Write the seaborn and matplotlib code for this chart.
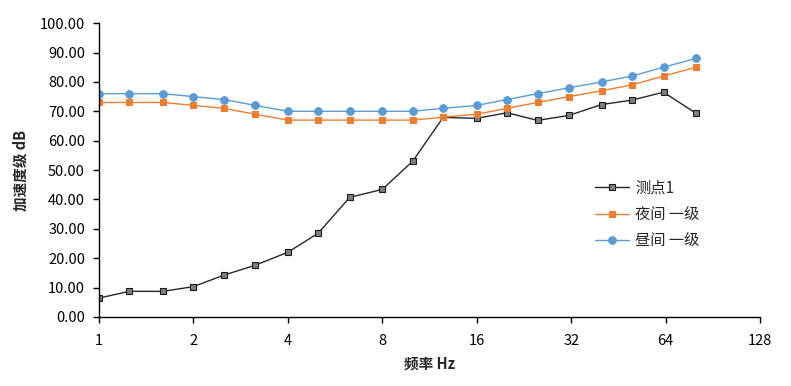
import numpy as np
import pandas as pd
import matplotlib
matplotlib.use('Agg')
import matplotlib.pyplot as plt
import seaborn as sns
from matplotlib.ticker import FixedLocator, FormatStrFormatter, NullLocator

sns.set_style('ticks')
plt.rcParams['font.family'] = ['Noto Sans CJK SC', 'DejaVu Sans']

# 1/3 octave band centre frequencies (Hz)
freq = [1, 1.25, 1.6, 2, 2.5, 3.15, 4, 5, 6.3, 8, 10, 12.5, 16, 20, 25, 31.5, 40, 50, 63, 80]
point1 = [6.4, 8.7, 8.7, 10.3, 14.2, 17.6, 22.0, 28.5, 40.7, 43.4, 53.0, 67.9, 67.6, 69.5, 66.9,
          68.6, 72.3, 73.8, 76.5, 69.3]
night1 = [73, 73, 73, 72, 71, 69, 67, 67, 67, 67, 67, 68, 69, 71, 73, 75, 77, 79, 82, 85]
day1 = [76, 76, 76, 75, 74, 72, 70, 70, 70, 70, 70, 71, 72, 74, 76, 78, 80, 82, 85, 88]
xticks = [1, 2, 4, 8, 16, 32, 64, 128]

fig = plt.figure(figsize=(7.91, 3.86), dpi=100)
ax = fig.add_axes([0.125, 0.179, 0.836, 0.761])

sns.lineplot(x=freq, y=point1, ax=ax, color='#262626', lw=1, marker='s', markersize=5,
             markerfacecolor='#7f7f7f', markeredgecolor='#1a1a1a', markeredgewidth=0.8, label='测点1')
sns.lineplot(x=freq, y=night1, ax=ax, color='#ED7D31', lw=1, marker='s', markersize=5,
             markeredgecolor='#ED7D31', label='夜间 一级')
sns.lineplot(x=freq, y=day1, ax=ax, color='#5B9BD5', lw=1, marker='o', markersize=5.5,
             markeredgecolor='#5B9BD5', label='昼间 一级')

ax.set_xscale('log', base=2)
ax.set_xlim(1, 128)
ax.xaxis.set_major_locator(FixedLocator(xticks))
ax.xaxis.set_minor_locator(NullLocator())
ax.set_xticklabels([str(t) for t in xticks])
ax.set_ylim(0, 100)
ax.set_yticks(np.arange(0, 101, 10))
ax.yaxis.set_major_formatter(FormatStrFormatter('%.2f'))

ax.tick_params(axis='both', labelsize=10.5, colors='black', length=4, width=1)
ax.tick_params(axis='x', pad=8)
ax.tick_params(axis='y', pad=6)
for s in ['top', 'right']:
    ax.spines[s].set_visible(False)
for s in ['left', 'bottom']:
    ax.spines[s].set_color('black')
    ax.spines[s].set_linewidth(1)

ax.set_xlabel('频率 Hz', fontsize=10.5, fontweight='bold', labelpad=6)
ax.set_ylabel('加速度级 dB', fontsize=10.5, fontweight='bold', labelpad=8)

ax.legend(loc='upper left', bbox_to_anchor=(0.73, 0.515), frameon=False, fontsize=11,
          handlelength=2.2, handletextpad=0.4, labelspacing=0.62)

fig.savefig('out.png', dpi=100)
